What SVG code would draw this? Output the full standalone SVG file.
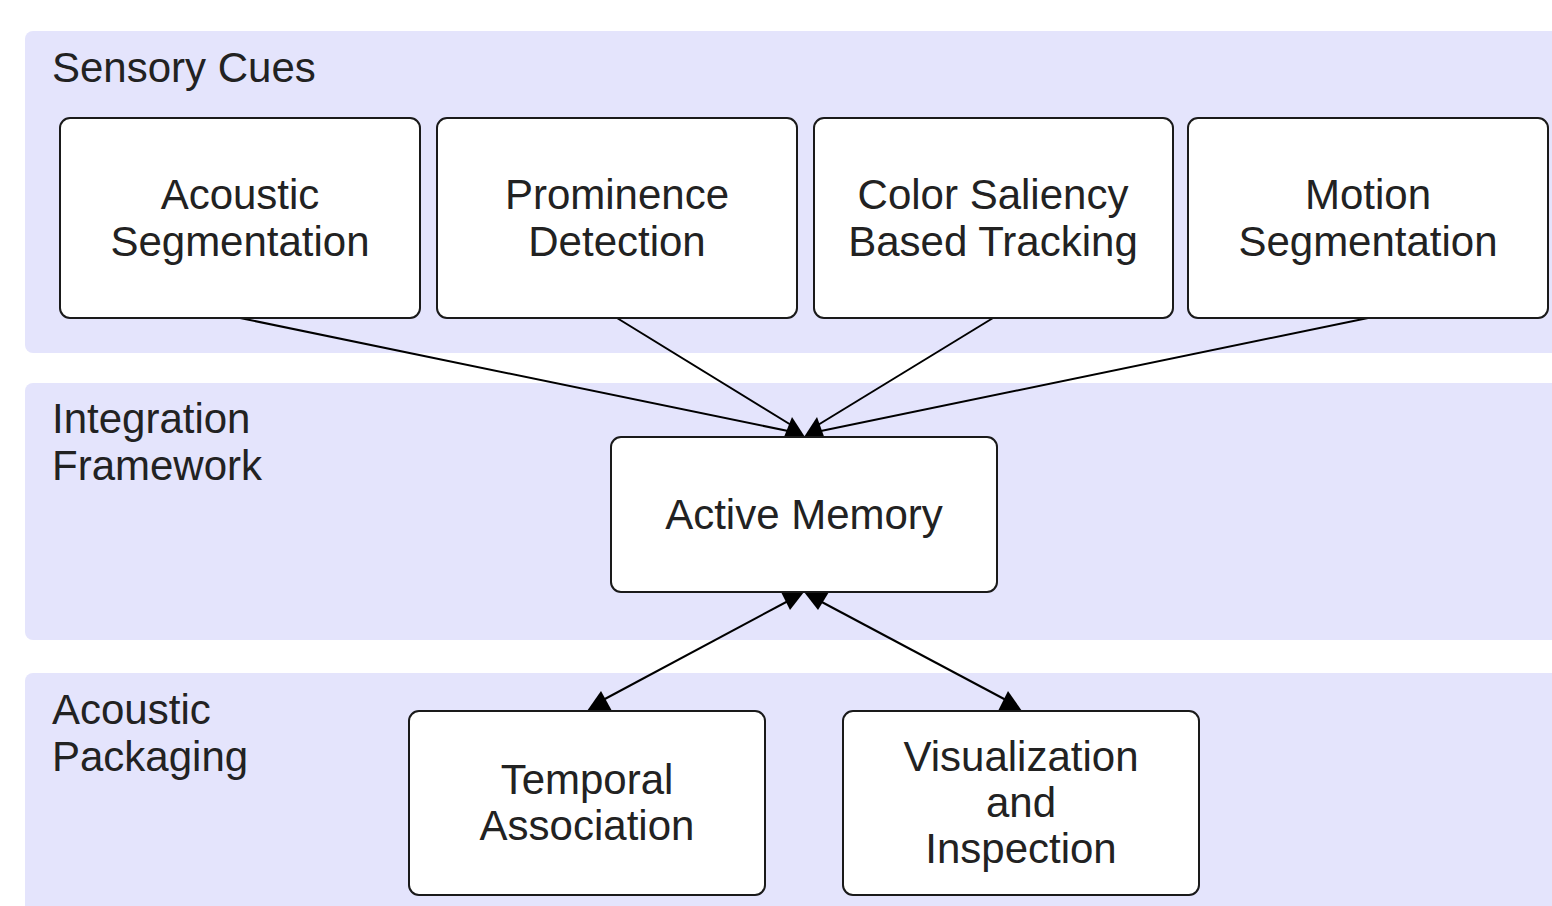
<svg xmlns="http://www.w3.org/2000/svg" width="1552" height="906" viewBox="0 0 1552 906">
<style>
.band{fill:#e4e4fc;}
.box{fill:#ffffff;stroke:#1a1a1a;stroke-width:2;}
.t{font-family:"Liberation Sans",Arial,sans-serif;font-size:42px;fill:#222222;}
.c{text-anchor:middle;}
.edge{stroke:#000000;stroke-width:2;fill:none;}
.head{fill:#000000;}
</style>
<rect x="0" y="0" width="1552" height="906" fill="#ffffff"/>
<g id="bands">
<rect class="band" x="25" y="31" width="1545" height="322" rx="8"/>
<rect class="band" x="25" y="383" width="1545" height="257" rx="8"/>
<rect class="band" x="25" y="673" width="1545" height="250" rx="8"/>
<text class="t" x="52" y="82">Sensory Cues</text>
<text class="t" x="52" y="433">Integration</text>
<text class="t" x="52" y="480">Framework</text>
<text class="t" x="52" y="724">Acoustic</text>
<text class="t" x="52" y="771">Packaging</text>
</g>
<g id="connectors">
<line class="edge" x1="240" y1="318" x2="793" y2="432"/>
<line class="edge" x1="617" y1="318" x2="796" y2="428"/>
<line class="edge" x1="993" y1="318" x2="813" y2="428"/>
<line class="edge" x1="1368" y1="318" x2="816" y2="432"/>
<line class="edge" x1="603" y1="700" x2="790" y2="600"/>
<line class="edge" x1="1006" y1="700" x2="818" y2="600"/>
<polygon class="head" points="782,442 792,417 805,437"/>
<polygon class="head" points="804,437 817,417 826,442"/>
<polygon class="head" points="781,592 804,592 790,610"/>
<polygon class="head" points="804,592 829,592 818,610"/>
<polygon class="head" points="587,711 601,691 612,711"/>
<polygon class="head" points="998,711 1008,691 1022,711"/>
</g>
<g id="acoustic-segmentation">
<rect class="box" x="60" y="118" width="360" height="200" rx="10"/>
<text class="t c" x="240" y="209">Acoustic</text>
<text class="t c" x="240" y="256">Segmentation</text>
</g>
<g id="prominence-detection">
<rect class="box" x="437" y="118" width="360" height="200" rx="10"/>
<text class="t c" x="617" y="209">Prominence</text>
<text class="t c" x="617" y="256">Detection</text>
</g>
<g id="color-saliency">
<rect class="box" x="814" y="118" width="359" height="200" rx="10"/>
<text class="t c" x="993" y="209">Color Saliency</text>
<text class="t c" x="993" y="256">Based Tracking</text>
</g>
<g id="motion-segmentation">
<rect class="box" x="1188" y="118" width="360" height="200" rx="10"/>
<text class="t c" x="1368" y="209">Motion</text>
<text class="t c" x="1368" y="256">Segmentation</text>
</g>
<g id="active-memory">
<rect class="box" x="611" y="437" width="386" height="155" rx="10"/>
<text class="t c" x="804" y="529">Active Memory</text>
</g>
<g id="temporal-association">
<rect class="box" x="409" y="711" width="356" height="184" rx="10"/>
<text class="t c" x="587" y="794">Temporal</text>
<text class="t c" x="587" y="840">Association</text>
</g>
<g id="visualization-inspection">
<rect class="box" x="843" y="711" width="356" height="184" rx="10"/>
<text class="t c" x="1021" y="771">Visualization</text>
<text class="t c" x="1021" y="817">and</text>
<text class="t c" x="1021" y="863">Inspection</text>
</g>
</svg>
